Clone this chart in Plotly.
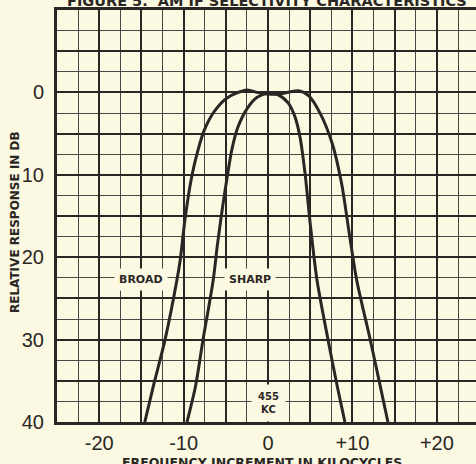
import plotly.graph_objects as go

# ---- data (kc offset, relative response dB) ----
broad_kc = [-14.6, -13.6, -12.2, -10.8, -10.4, -9.8, -9.0, -8.3, -7.6, -6.5, -4.9, -2.5, -1.3, 0.0, 1.4,
            3.6, 4.8, 6.2, 7.6, 8.7, 9.6, 10.5, 12.1, 13.3, 14.2]
broad_db = [40.0, 35.7, 30.0, 22.8, 20.3, 15.1, 10.0, 7.0, 4.7, 2.5, 0.7, -0.3, 0.0, 0.2, 0.2,
            -0.2, 0.4, 2.6, 6.2, 11.0, 17.0, 22.8, 30.0, 35.7, 40.0]

sharp_kc = [-9.6, -8.6, -7.7, -6.5, -6.0, -5.4, -4.8, -4.3, -3.6, -2.5, -1.3, 0.0, 1.2, 2.4, 3.2,
            3.8, 4.4, 5.0, 5.8, 7.1, 8.2, 9.1]
sharp_db = [40.0, 35.7, 30.0, 22.8, 18.5, 14.0, 10.0, 7.0, 4.3, 2.0, 0.6, 0.1, 0.3, 1.3, 3.0,
            5.5, 10.0, 16.0, 22.8, 30.0, 35.7, 40.0]

x_tickvals = [-25, -20, -15, -10, -5, 0, 5, 10, 15, 20]
x_ticktext = ["", "-20", "", "-10", "", "0", "", "+10", "", "+20"]
y_tickvals = [-10, -5, 0, 5, 10, 15, 20, 25, 30, 35, 40]
y_ticktext = ["", "", "0", "", "10", "", "20", "", "30", "", "40"]

title_text = "FIGURE 5.  AM IF SELECTIVITY CHARACTERISTICS"
x_title = "FREQUENCY INCREMENT IN KILOCYCLES"
y_title = "RELATIVE RESPONSE IN DB"

BG = "#fcf9e2"
INK = "#2a2624"

fig = go.Figure()
for xs, ys in [(broad_kc, broad_db), (sharp_kc, sharp_db)]:
    fig.add_trace(go.Scatter(x=xs, y=ys, mode="lines",
                             line=dict(color=INK, width=3, shape="spline", smoothing=0.8),
                             showlegend=False, hoverinfo="skip"))

label_font = dict(family="DejaVu Sans", size=11, color=INK, weight="bold")
fig.add_annotation(x=-15.0, y=22.7, text="BROAD", showarrow=False, font=label_font,
                   bgcolor=BG, borderpad=4)
fig.add_annotation(x=-2.1, y=22.7, text="SHARP", showarrow=False, font=label_font,
                   bgcolor=BG, borderpad=4)
fig.add_annotation(x=0.0, y=37.7, text="455<br>KC", showarrow=False,
                   font=dict(family="DejaVu Sans", size=10, color=INK, weight="bold"),
                   bgcolor=BG, borderpad=6)

fig.add_annotation(xref="paper", yref="paper", x=(267 - 57) / 419, y=1 + 9 / 412,
                   xanchor="center", yanchor="middle", text=title_text, showarrow=False,
                   font=dict(family="DejaVu Sans", size=14.5, color=INK, weight="bold"))
fig.add_annotation(xref="paper", yref="paper", x=(262 - 57) / 419, y=(422 - 462) / 412,
                   xanchor="center", yanchor="middle", text=x_title, showarrow=False,
                   font=dict(family="DejaVu Sans", size=12.5, color=INK, weight="bold"))
fig.add_annotation(xref="paper", yref="paper", x=(15 - 57) / 419, y=(422 - 222) / 412,
                   xanchor="center", yanchor="middle", text=y_title, showarrow=False,
                   textangle=-90,
                   font=dict(family="DejaVu Sans", size=12, color=INK, weight="bold"))

fig.update_xaxes(range=[-25, 24.63], tickvals=x_tickvals, ticktext=x_ticktext,
                 showgrid=True, gridcolor=INK, gridwidth=2, zeroline=False,
                 minor=dict(dtick=2.5, tick0=0, showgrid=True, gridcolor="#4a4644", gridwidth=1.2),
                 showline=True, linewidth=3, linecolor=INK, mirror=True,
                 ticks="", ticklabelstandoff=1, automargin=False,
                 tickfont=dict(family="Liberation Sans", size=20, color=INK))
fig.update_yaxes(range=[40, -10], tickvals=y_tickvals, ticktext=y_ticktext,
                 showgrid=True, gridcolor=INK, gridwidth=2, zeroline=False,
                 minor=dict(dtick=2.5, tick0=0, showgrid=True, gridcolor="#4a4644", gridwidth=1.2),
                 showline=True, linewidth=3, linecolor=INK, mirror=False,
                 ticks="", ticklabelstandoff=6, automargin=False,
                 tickfont=dict(family="Liberation Sans", size=20, color=INK))

fig.update_layout(width=476, height=464, margin=dict(l=57, r=0, t=10, b=42, autoexpand=False),
                  paper_bgcolor=BG, plot_bgcolor=BG)

fig.write_html("out.html", config={"displayModeBar": False},
               post_script="document.body.style.margin='0';document.body.style.background='%s';" % BG)
